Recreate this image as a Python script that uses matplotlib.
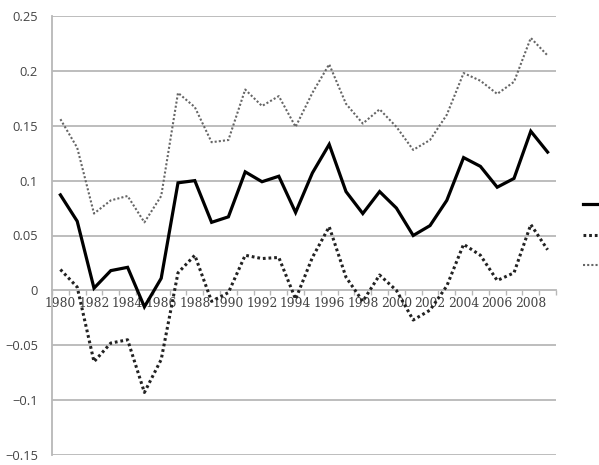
import matplotlib
matplotlib.use("Agg")
import matplotlib.pyplot as plt
import numpy as np

years = list(range(1980, 2010))
estimate = [0.087, 0.063, 0.002, 0.018, 0.021, -0.015, 0.011, 0.098, 0.100, 0.062,
            0.067, 0.108, 0.099, 0.104, 0.071, 0.107, 0.133, 0.090, 0.070, 0.090,
            0.075, 0.050, 0.059, 0.082, 0.121, 0.113, 0.094, 0.102, 0.145, 0.126]
lower = [0.019, 0.003, -0.065, -0.048, -0.045, -0.093, -0.063, 0.016, 0.032, -0.010,
         -0.002, 0.032, 0.029, 0.030, -0.008, 0.030, 0.058, 0.012, -0.010, 0.014,
         0.000, -0.027, -0.018, 0.004, 0.042, 0.032, 0.009, 0.016, 0.060, 0.037]
upper = [0.156, 0.130, 0.070, 0.082, 0.086, 0.062, 0.086, 0.180, 0.167, 0.135,
         0.137, 0.183, 0.168, 0.177, 0.149, 0.180, 0.206, 0.170, 0.152, 0.165,
         0.149, 0.128, 0.137, 0.160, 0.198, 0.191, 0.179, 0.190, 0.230, 0.214]
y_ticks = [-0.15, -0.1, -0.05, 0, 0.05, 0.1, 0.15, 0.2, 0.25]
y_tick_labels = ["\u22120.15", "\u22120.1", "\u22120.05", "0", "0.05", "0.1", "0.15", "0.2", "0.25"]
x_label_years = years[::2]

W, H = 599, 465
fig = plt.figure(figsize=(W / 100, H / 100), dpi=100)
ax = fig.add_axes([52 / W, (H - 455) / H, (556 - 52) / W, (455 - 16) / H])

x = np.arange(len(years))
l1, = ax.plot(x, estimate, color="black", lw=2.3, solid_joinstyle="miter", zorder=4)
l2, = ax.plot(x, lower, color="#222222", lw=2.2, linestyle=(0, (0.9, 0.95)),
              dash_capstyle="butt", zorder=3)
l3, = ax.plot(x, upper, color="#666666", lw=1.5, linestyle=(0, (1.0, 1.0)),
              dash_capstyle="butt", zorder=3)

ax.set_xlim(-0.5, len(years) - 0.5)
ax.set_ylim(-0.15, 0.25)
ax.set_yticks(y_ticks)
ax.set_yticklabels(y_tick_labels, fontfamily="Open Sans", fontsize=9.3, color="#444444")
ax.tick_params(axis="y", length=0, pad=10)

for yv in y_ticks:
    if yv != 0:
        ax.axhline(yv, color="#b8b8b8", lw=1.3, zorder=1)

for s in ["top", "right"]:
    ax.spines[s].set_visible(False)
ax.spines["left"].set_color("#b8b8b8")
ax.spines["left"].set_linewidth(1.3)
ax.spines["bottom"].set_position(("data", 0))
ax.spines["bottom"].set_color("#b8b8b8")
ax.spines["bottom"].set_linewidth(1.3)

ax.set_xticks([years.index(y) for y in x_label_years])
ax.set_xticklabels([str(y) for y in x_label_years], fontfamily="DejaVu Serif",
                   fontsize=8.8, color="#444444")
ax.set_xticks(np.arange(-0.5, len(years), 1.0), minor=True)
ax.tick_params(axis="x", which="major", length=0, pad=5)
ax.tick_params(axis="x", which="minor", length=3.5, width=1, color="#b8b8b8", direction="out")

fig.legend([l1, l2, l3], [" ", " ", " "], loc="upper left",
           bbox_to_anchor=(583 / W, 1 - 198 / H), frameon=False,
           handlelength=2.5, borderpad=0, borderaxespad=0, labelspacing=1.2,
           fontsize=10, handletextpad=0.3)

fig.savefig("out.png", dpi=100, facecolor="white")
